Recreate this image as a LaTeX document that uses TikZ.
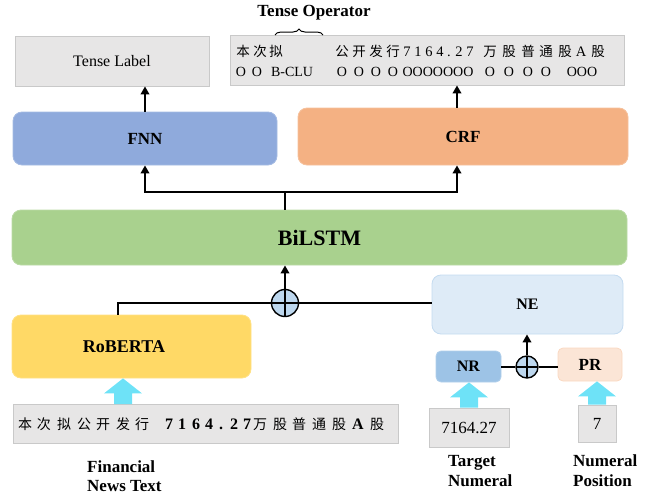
\documentclass[tikz,border=0pt]{standalone}
\usepackage{fontspec}
\setmainfont{Liberation Serif}
\newfontfamily\cjk{Noto Sans CJK SC}
\usetikzlibrary{arrows.meta,decorations.pathreplacing,calc}
\definecolor{graybox}{HTML}{E7E6E6}
\definecolor{grayline}{HTML}{C9C9C9}
\definecolor{fnnc}{HTML}{8FAADC}
\definecolor{crfc}{HTML}{F4B183}
\definecolor{bilc}{HTML}{A9D18E}
\definecolor{robc}{HTML}{FFD966}
\definecolor{nec}{HTML}{DEEBF7}
\definecolor{nrc}{HTML}{9DC3E6}
\definecolor{prc}{HTML}{FBE5D6}
\definecolor{fatc}{HTML}{6EE2F7}
\definecolor{oplc}{HTML}{BDD7EE}
\newcommand\fatarrow[2]{\fill[fatc] let \p1=(#1), \p2=(#2) in (\x1-9pt,\y1) -- (\x1-9pt,\y2-15pt) -- (\x1-19pt,\y2-15pt) -- (\x1,\y2) -- (\x1+19pt,\y2-15pt) -- (\x1+9pt,\y2-15pt) -- (\x1+9pt,\y1) -- cycle;}
\begin{document}
\begin{tikzpicture}[x=1pt,y=-1pt,
  rbox/.style={rectangle, rounded corners=9pt, inner sep=0pt, line width=0.8pt, font=\bfseries\fontsize{17}{20}\selectfont},
  gbox/.style={rectangle, inner sep=0pt, fill=graybox, draw=grayline, line width=0.8pt},
  conn/.style={line width=2pt, draw=black},
  arr/.style={conn, -{Triangle[length=8pt,width=8.5pt]}},
  opl/.style={circle, draw=black, line width=1.4pt, fill=oplc, inner sep=0pt,
     path picture={\draw[line width=1.2pt] (path picture bounding box.north) -- (path picture bounding box.south) (path picture bounding box.west) -- (path picture bounding box.east);}},
  lbl/.style={font=\bfseries\fontsize{17}{20}\selectfont, align=left, inner sep=0pt, anchor=north west},
  cjkt/.style={font=\cjk\fontsize{13.5}{13.5}\selectfont, inner sep=0pt, anchor=base},
  serd/.style={font=\fontsize{14.5}{14.5}\selectfont, inner sep=0pt, anchor=base},
  fint/.style={font=\cjk\fontsize{14}{14}\selectfont, inner sep=0pt, anchor=base},
  dgt/.style={font=\bfseries\fontsize{16}{16}\selectfont, inner sep=0pt, anchor=base},
  tagt/.style={font=\fontsize{14}{14}\selectfont, inner sep=0pt, anchor=base}]
\useasboundingbox (0,0) rectangle (649,498);

% top row
\node[gbox, minimum width=194pt, minimum height=50pt, font=\fontsize{16}{18}\selectfont] (tlabel) at (112,61) {Tense Label};
\node[gbox, minimum width=394pt, minimum height=50pt] (tops) at (427,60) {};
\node[font=\bfseries\fontsize{17}{18}\selectfont, inner sep=0pt] (topname) at (314,13) {Tense Operator};
\coordinate (b1) at (275,35);
\coordinate (b2) at (323,35);
\draw[decorate, decoration={brace, amplitude=6pt}, line width=1pt] (b1) -- (b2);

\foreach \xx/\t [count=\i] in {243/本,260/次,276/拟,342/公,359/开,376/发,393/行,490/万,509/股,528/普,546/通,565/股,598/股}
  \node[cjkt] (ta\i) at (\xx,56) {\t};
\foreach \xx/\t [count=\i] in {407/7,418/1,429/6,440/4,449/.,459/2,470/7,581/A}
  \node[serd] (td\i) at (\xx,56) {\t};
\foreach \xx/\t [count=\i] in {241/O,257/O,292/B-CLU,342/O,359/O,376/O,393/O,438/OOOOOOO,490/O,509/O,528/O,546/O,582/OOO}
  \node[tagt] (tb\i) at (\xx,76) {\t};

% middle
\node[rbox, fill=fnnc, draw=fnnc!80!white, minimum width=264pt, minimum height=53pt] (fnn) at (145,138.5) {FNN};
\node[rbox, fill=crfc, draw=crfc!80!white, minimum width=330pt, minimum height=57pt] (crf) at (463,136.5) {CRF};
\node[rbox, fill=bilc, draw=bilc!80!white, minimum width=615pt, minimum height=55pt, font=\bfseries\fontsize{22}{24}\selectfont] (bil) at (319.5,237.5) {BiLSTM};
\node[rbox, fill=robc, draw=robc!80!white, minimum width=239pt, minimum height=63pt, font=\bfseries\fontsize{18}{20}\selectfont] (rob) at (131.5,346.5) {RoBERTA\hspace*{15pt}};
\node[rbox, fill=nec, draw=nrc!60!white, minimum width=191pt, minimum height=59pt, font=\bfseries\fontsize{16}{18}\selectfont] (ne) at (527.5,304.5) {NE};
\node[rbox, rounded corners=5pt, fill=nrc, draw=nrc!80!white, minimum width=65pt, minimum height=31pt, font=\bfseries\fontsize{16}{18}\selectfont] (nr) at (468.5,366.5) {NR};
\node[rbox, rounded corners=5pt, fill=prc, draw=crfc!50!white, minimum width=64pt, minimum height=33pt, font=\bfseries\fontsize{17}{18}\selectfont] (pr) at (590,364.5) {PR};

\node[opl, minimum size=27pt] (op1) at (285,303) {};
\node[opl, minimum size=22pt] (op2) at (527,367) {};

% inputs
\node[gbox, minimum width=385pt, minimum height=39pt] (fin) at (205.5,423.5) {};
\node[gbox, minimum width=80pt, minimum height=39pt, font=\fontsize{17}{17}\selectfont] (numbox) at (469,427.5) {7164.27};
\node[gbox, minimum width=38pt, minimum height=37pt, font=\fontsize{17}{17}\selectfont] (posbox) at (597,423.5) {7};

\foreach \xx/\t [count=\i] in {25/本,44/次,64/拟,84/公,103/开,123/发,142/行,260/万,280/股,299/普,319/通,339/股,377/股}
  \node[fint] (fc\i) at (\xx,429.5) {\t};
\foreach \xx/\t [count=\i] in {169/7,182/1,196/6,209/4,221/.,234/2,247/7,358/A}
  \node[dgt] (fd\i) at (\xx,429.5) {\t};

% connectors
\coordinate (crfx) at (457,0);
\coordinate (J) at (285,192);
\coordinate (rx) at (118,0);
\draw[arr] (fnn.north) -- (fnn.north |- tlabel.south);
\draw[arr] (crf.north -| crfx) -- (crfx |- tops.south);
\draw[conn] (bil.north -| J) -- (J);
\draw[arr] (J) -| (fnn.south);
\draw[arr] (J) -| (crfx |- crf.south);
\draw[arr] (op1.north) -- (op1.north |- bil.south);
\draw[conn] (rob.north -| rx) |- (op1.west);
\draw[conn] (op1.east) -- (op1.east -| ne.west);
\draw[conn] (op2.west -| nr.east) -- (op2.west);
\draw[conn] (op2.east) -- (op2.east -| pr.west);
\draw[arr] (op2.north) -- (op2.north |- ne.south);

% fat arrows
\coordinate (fa1) at (123,404);
\fatarrow{fa1}{fa1 |- rob.south}
\fatarrow{numbox.north}{numbox.north |- nr.south}
\fatarrow{posbox.north}{posbox.north |- pr.south}

% labels
\node[lbl] (lfin) at (87,460) {Financial\\News Text};
\node[lbl] (ltar) at (448,455) {Target\\Numeral};
\node[lbl] (lpos) at (573,455) {Numeral\\Position};
\end{tikzpicture}
\end{document}
